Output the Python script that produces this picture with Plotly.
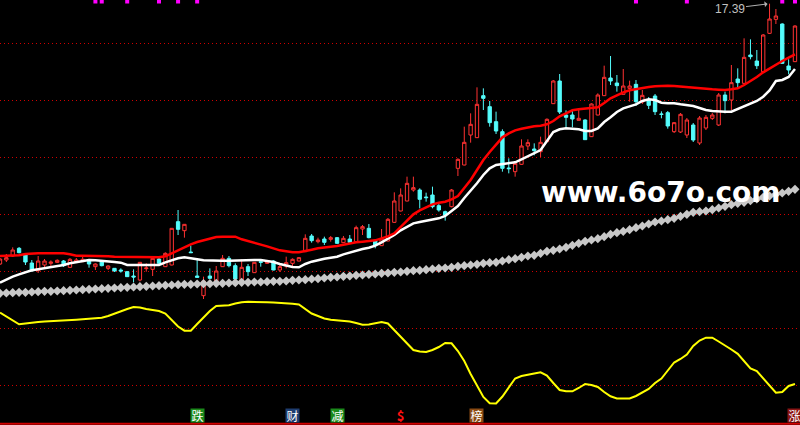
import plotly.graph_objects as go

# ---- data ----
idx = list(range(126))

open_ = [9.58, 9.70, 9.82, 10.05, 9.85, 9.61, 9.38, 9.55, 9.60, 9.63,
         9.67, 9.48, 9.64, 9.65, 9.70, 9.50, 9.65, 9.45, 9.45, 9.40,
         9.35, 9.22, 9.10, 9.44, 9.42, 9.73, 9.50, 9.55, 10.85, 10.58,
         9.94, 9.22, 8.63, 9.22, 9.00, 9.50, 9.75, 9.53, 9.05, 9.50,
         9.32, 9.65, 9.60, 9.67, 9.40, 9.52, 9.60, 9.67, 9.95, 10.42,
         10.25, 10.33, 10.32, 10.37, 10.22, 10.33, 10.25, 10.63, 10.65, 10.28,
         10.13, 10.27, 10.83, 11.17, 11.47, 11.80, 11.80, 11.59, 11.65, 11.33,
         11.15, 11.30, 12.45, 12.55, 13.45, 13.37, 14.63, 14.30, 13.85, 13.55,
         12.46, 12.35, 12.57, 13.12, 13.03, 12.95, 13.25, 14.39, 15.07, 14.05,
         14.05, 13.89, 13.90, 13.40, 14.05, 14.63, 15.16, 15.01, 14.67, 14.85,
         14.97, 14.44, 14.50, 14.62, 14.08, 14.12, 13.55, 13.54, 13.45, 13.75,
         13.21, 13.66, 13.95, 13.75, 14.65, 14.50, 15.13, 15.00, 15.85, 15.67,
         15.35, 16.50, 16.92, 16.78, 15.52, 15.65]

high = [9.76, 9.88, 10.08, 10.09, 9.91, 9.70, 9.82, 9.73, 9.69, 9.72,
        9.70, 9.76, 9.76, 9.82, 9.73, 9.60, 9.67, 9.54, 9.46, 9.45,
        9.37, 9.42, 9.64, 9.60, 9.78, 9.82, 9.93, 10.66, 11.20, 10.78,
        10.13, 9.75, 9.20, 9.45, 9.52, 9.85, 9.82, 9.60, 9.72, 9.58,
        9.64, 9.70, 9.67, 9.69, 9.55, 9.80, 9.75, 9.79, 10.47, 10.48,
        10.37, 10.40, 10.42, 10.39, 10.42, 10.45, 10.73, 10.75, 10.78, 10.30,
        10.63, 10.96, 11.73, 11.85, 12.20, 12.20, 11.85, 11.72, 11.90, 11.38,
        11.18, 11.83, 12.75, 13.70, 14.10, 14.88, 14.85, 14.47, 14.15, 13.62,
        12.75, 12.61, 13.32, 13.32, 13.20, 13.40, 13.95, 15.10, 15.28, 14.19,
        14.20, 14.22, 13.92, 14.40, 14.70, 15.53, 15.82, 15.25, 15.43, 15.08,
        15.10, 14.80, 14.59, 14.68, 14.16, 14.17, 13.84, 14.11, 13.96, 13.81,
        14.02, 14.05, 14.11, 14.71, 14.75, 15.55, 15.45, 16.35, 16.32, 16.00,
        16.48, 17.39, 17.23, 16.80, 15.72, 16.74]

low = [9.55, 9.64, 9.79, 9.90, 9.55, 9.36, 9.31, 9.49, 9.51, 9.61,
       9.49, 9.46, 9.61, 9.64, 9.47, 9.40, 9.51, 9.40, 9.34, 9.32,
       9.19, 9.03, 9.06, 9.35, 9.22, 9.52, 9.49, 9.54, 10.45, 10.37,
       9.91, 9.16, 8.53, 9.13, 8.98, 9.49, 9.48, 9.05, 9.04, 9.22,
       9.31, 9.50, 9.58, 9.39, 9.34, 9.45, 9.50, 9.66, 9.94, 10.22,
       10.20, 10.15, 10.25, 10.18, 10.21, 10.21, 10.24, 10.45, 10.35, 10.05,
       10.12, 10.26, 10.81, 11.16, 11.46, 11.75, 11.25, 11.45, 11.25, 11.15,
       10.88, 11.28, 12.22, 12.54, 13.22, 13.36, 14.20, 13.70, 13.48, 12.35,
       12.30, 12.20, 12.55, 13.00, 12.84, 12.79, 13.24, 14.38, 14.08, 13.67,
       13.68, 13.89, 13.30, 13.39, 14.04, 14.62, 14.95, 14.75, 14.67, 14.45,
       14.32, 14.38, 14.23, 14.05, 13.95, 13.64, 13.51, 13.51, 13.36, 13.24,
       13.15, 13.60, 13.90, 13.72, 14.10, 14.20, 14.85, 14.98, 15.72, 15.43,
       15.34, 16.48, 16.78, 15.58, 15.27, 15.64]

close = [9.73, 9.77, 10.00, 9.92, 9.64, 9.37, 9.67, 9.67, 9.64, 9.69,
         9.53, 9.72, 9.70, 9.72, 9.58, 9.58, 9.53, 9.52, 9.37, 9.37,
         9.20, 9.19, 9.63, 9.46, 9.75, 9.60, 9.90, 10.65, 10.62, 10.77,
         9.92, 9.18, 9.07, 9.15, 9.37, 9.75, 9.53, 9.13, 9.48, 9.35,
         9.63, 9.63, 9.65, 9.40, 9.50, 9.62, 9.72, 9.77, 10.35, 10.28,
         10.30, 10.23, 10.37, 10.20, 10.35, 10.23, 10.67, 10.70, 10.37, 10.15,
         10.33, 10.92, 11.47, 11.65, 12.00, 11.87, 11.52, 11.57, 11.30, 11.20,
         11.05, 11.80, 12.72, 13.23, 13.77, 14.37, 14.55, 13.82, 13.57, 12.45,
         12.44, 12.60, 13.12, 13.22, 12.98, 13.23, 13.92, 15.07, 14.14, 13.98,
         13.93, 13.95, 13.31, 14.38, 14.65, 15.18, 15.07, 14.93, 14.92, 14.92,
         14.45, 14.64, 14.34, 14.15, 14.07, 13.72, 13.82, 14.07, 13.90, 13.30,
         13.96, 13.98, 14.05, 14.65, 14.48, 15.02, 15.02, 15.78, 15.80, 15.53,
         16.45, 16.93, 17.02, 15.60, 15.40, 16.72]

ma_red = [9.82, 9.82, 9.82, 9.84, 9.88, 9.90, 9.90, 9.90, 9.90, 9.90,
          9.90, 9.87, 9.83, 9.83, 9.83, 9.83, 9.83, 9.81, 9.80, 9.80,
          9.80, 9.80, 9.79, 9.78, 9.78, 9.78, 9.81, 9.90, 10.00, 10.09,
          10.17, 10.24, 10.29, 10.35, 10.39, 10.40, 10.40, 10.40, 10.32, 10.27,
          10.23, 10.18, 10.11, 10.05, 9.99, 9.96, 9.93, 9.93, 9.96, 10.01,
          10.05, 10.07, 10.10, 10.12, 10.16, 10.20, 10.23, 10.25, 10.27, 10.29,
          10.35, 10.41, 10.50, 10.69, 10.87, 11.07, 11.19, 11.29, 11.37, 11.42,
          11.45, 11.52, 11.62, 11.86, 12.10, 12.40, 12.70, 12.94, 13.15, 13.38,
          13.50, 13.59, 13.64, 13.68, 13.71, 13.73, 13.77, 13.87, 14.01, 14.10,
          14.19, 14.22, 14.24, 14.25, 14.28, 14.41, 14.55, 14.64, 14.73, 14.79,
          14.83, 14.86, 14.89, 14.91, 14.93, 14.93, 14.92, 14.90, 14.88, 14.87,
          14.85, 14.83, 14.82, 14.81, 14.80, 14.82, 14.85, 14.95, 15.06, 15.19,
          15.33, 15.45, 15.57, 15.67, 15.77, 15.87]

ma_white = [9.02, 9.12, 9.20, 9.27, 9.33, 9.39, 9.42, 9.45, 9.48, 9.51,
            9.55, 9.60, 9.64, 9.68, 9.70, 9.69, 9.68, 9.66, 9.64, 9.62,
            9.55, 9.55, 9.55, 9.55, 9.55, 9.55, 9.63, 9.70, 9.75, 9.78,
            9.76, 9.72, 9.69, 9.68, 9.68, 9.68, 9.68, 9.69, 9.70, 9.70,
            9.70, 9.70, 9.67, 9.64, 9.58, 9.53, 9.49, 9.48, 9.58, 9.65,
            9.70, 9.74, 9.77, 9.80, 9.87, 9.93, 9.99, 10.03, 10.07, 10.13,
            10.23, 10.33, 10.45, 10.59, 10.69, 10.80, 10.84, 10.88, 10.92, 10.95,
            11.02, 11.17, 11.32, 11.56, 11.77, 12.00, 12.25, 12.45, 12.55, 12.57,
            12.60, 12.63, 12.72, 12.81, 12.89, 13.00, 13.27, 13.54, 13.62, 13.65,
            13.64, 13.62, 13.57, 13.57, 13.65, 13.84, 13.98, 14.14, 14.25, 14.31,
            14.37, 14.47, 14.52, 14.50, 14.42, 14.40, 14.40, 14.37, 14.34, 14.32,
            14.26, 14.20, 14.17, 14.15, 14.15, 14.15, 14.23, 14.31, 14.38, 14.47,
            14.60, 14.79, 15.07, 15.10, 15.19, 15.43]

ma_gray = [8.70, 8.71, 8.72, 8.73, 8.73, 8.74, 8.75, 8.76, 8.76, 8.77,
           8.78, 8.79, 8.80, 8.81, 8.82, 8.83, 8.84, 8.85, 8.86, 8.87,
           8.88, 8.89, 8.90, 8.91, 8.92, 8.93, 8.94, 8.95, 8.96, 8.97,
           8.97, 8.98, 8.99, 8.99, 9.00, 9.00, 9.01, 9.02, 9.03, 9.03,
           9.04, 9.04, 9.05, 9.06, 9.06, 9.07, 9.09, 9.10, 9.11, 9.13,
           9.14, 9.16, 9.18, 9.19, 9.21, 9.22, 9.24, 9.25, 9.27, 9.28,
           9.30, 9.31, 9.33, 9.34, 9.36, 9.38, 9.39, 9.41, 9.43, 9.45,
           9.46, 9.48, 9.51, 9.53, 9.55, 9.57, 9.60, 9.62, 9.63, 9.67,
           9.71, 9.74, 9.78, 9.82, 9.84, 9.90, 9.96, 9.99, 10.03, 10.08,
           10.14, 10.20, 10.26, 10.30, 10.34, 10.40, 10.47, 10.52, 10.56, 10.61,
           10.67, 10.72, 10.78, 10.84, 10.87, 10.91, 10.95, 11.01, 11.07, 11.13,
           11.15, 11.17, 11.21, 11.26, 11.31, 11.36, 11.40, 11.43, 11.48, 11.53,
           11.58, 11.62, 11.67, 11.71, 11.76, 11.82]

osc = [92.3, 88.5, 84.0, 80.7, 81.5, 82.5, 83.0, 83.5, 84.0, 84.3,
       84.7, 85.0, 85.3, 85.7, 86.0, 86.7, 87.3, 89.0, 91.5, 93.5,
       96.0, 98.0, 97.5, 96.0, 95.0, 94.0, 91.5, 85.0, 78.5, 74.3,
       74.3, 81.0, 88.0, 94.0, 99.0, 99.5, 99.7, 101.5, 102.8, 103.2,
       103.3, 103.0, 102.8, 102.5, 102.3, 102.0, 101.3, 100.5, 96.0, 91.5,
       89.0, 86.5, 85.2, 84.7, 84.2, 83.5, 82.0, 80.3, 80.5, 81.5,
       83.0, 81.5, 75.0, 68.0, 61.5, 55.0, 53.5, 53.0, 55.0, 58.0,
       62.0, 61.7, 54.0, 44.0, 31.0, 19.0, 8.0, 1.7, 1.5, 8.5,
       18.0, 26.5, 29.0, 30.5, 31.5, 32.7, 29.5, 22.0, 15.0, 13.7,
       13.7, 17.0, 21.0, 20.0, 18.0, 13.0, 8.7, 6.5, 6.3, 6.5,
       9.0, 12.5, 16.0, 22.0, 26.5, 34.5, 42.5, 46.0, 50.5, 59.0,
       64.5, 67.3, 67.3, 63.5, 59.8, 55.5, 51.2, 44.0, 36.5, 34.0,
       27.0, 19.0, 12.3, 13.0, 19.0, 21.0]

signal_idx = [15, 16, 20, 25, 28, 31, 100, 108, 123, 125]
grid_levels = [16.21, 14.50, 12.79, 11.08, 9.37, 7.66, 5.95]

badge_idx = [31, 46, 53, 63, 75, 125]
badge_text = ["跌", "财", "减", "<b>$</b>", "榜", "涨"]
badge_bg = ["#1b8a1b", "#1e3d70", "#1b8a1b", "rgba(0,0,0,0)", "#8a4a12", "#8a1414"]
badge_fg = ["#ffffff", "#ffffff", "#ffffff", "#ff1010", "#ffffff", "#ffffff"]
badge_size = [12, 12, 12, 13, 12, 12]
badge_h = [13, 13, 13, 17, 13, 13]

RED = "#ff3232"
CYAN = "#54fcfc"

fig = go.Figure()

fig.add_trace(go.Scatter(
    x=idx, y=ma_gray, mode="lines+markers",
    line=dict(color="#c8c8c8", width=1.5),
    marker=dict(symbol="diamond", size=7, color="#c8c8c8"),
    hoverinfo="skip"))

fig.add_trace(go.Candlestick(
    x=idx, open=open_, high=high, low=low, close=close,
    increasing=dict(line=dict(color=RED, width=1), fillcolor="#000000"),
    decreasing=dict(line=dict(color=CYAN, width=1), fillcolor=CYAN),
    whiskerwidth=0))

fig.add_trace(go.Scatter(x=idx, y=ma_white, mode="lines",
                         line=dict(color="#ffffff", width=2.5), hoverinfo="skip"))
fig.add_trace(go.Scatter(x=idx, y=ma_red, mode="lines",
                         line=dict(color="#ff0000", width=2.5), hoverinfo="skip"))

fig.add_trace(go.Scatter(x=idx, y=osc, mode="lines", yaxis="y2",
                         line=dict(color="#ffff00", width=2), hoverinfo="skip"))

fig.add_trace(go.Scatter(x=signal_idx, y=[17.455] * len(signal_idx), mode="markers",
                         marker=dict(symbol="square", size=4, color="#ff00ff"),
                         hoverinfo="skip"))

annotations = []
for i, t, bg, fg, fs, h in zip(badge_idx, badge_text, badge_bg, badge_fg, badge_size, badge_h):
    annotations.append(dict(
        x=i, xref="x", y=0.022, yref="paper", yanchor="middle", xanchor="center",
        text=t, showarrow=False, bgcolor=bg, width=13, height=h, borderpad=0,
        font=dict(family="Noto Sans CJK SC", size=fs, color=fg)))

annotations.append(dict(
    x=121, y=17.39, xref="x", yref="y", text="17.39", showarrow=True,
    ax=-40, ay=5, arrowhead=1, arrowsize=1, arrowwidth=1, arrowcolor="#b0b0b0",
    standoff=2, font=dict(family="Liberation Sans", size=12, color="#c0c0c0")))

annotations.append(dict(
    x=0.826, y=0.548, xref="paper", yref="paper", xanchor="center", yanchor="middle",
    text="<b>www.6o7o.com</b>",
    showarrow=False, font=dict(family="DejaVu Sans", size=28, color="#ffffff")))

fig.update_layout(
    width=800, height=425,
    margin=dict(l=0, r=0, t=0, b=0),
    paper_bgcolor="#000000", plot_bgcolor="#000000",
    showlegend=False, boxgap=0.25, hovermode=False,
    xaxis=dict(range=[0, 125.79], visible=False, rangeslider=dict(visible=False)),
    yaxis=dict(range=[4.75, 17.5], tickvals=grid_levels, showticklabels=False,
               showgrid=True, gridcolor="#d00000", gridwidth=1, griddash="1px,3px",
               zeroline=False, showline=False, ticks=""),
    yaxis2=dict(range=[-20, 405], overlaying="y", visible=False),
    annotations=annotations,
    shapes=[dict(type="line", xref="paper", yref="paper", x0=0, x1=1, y0=0.003, y1=0.003,
                 line=dict(color="#d00000", width=2))],
)

fig.write_html("out.html",
               config={"displayModeBar": False, "staticPlot": True},
               post_script="document.body.style.margin='0';document.body.style.padding='0';"
                           "document.documentElement.style.background='#000';"
                           "document.body.style.overflow='hidden';")
